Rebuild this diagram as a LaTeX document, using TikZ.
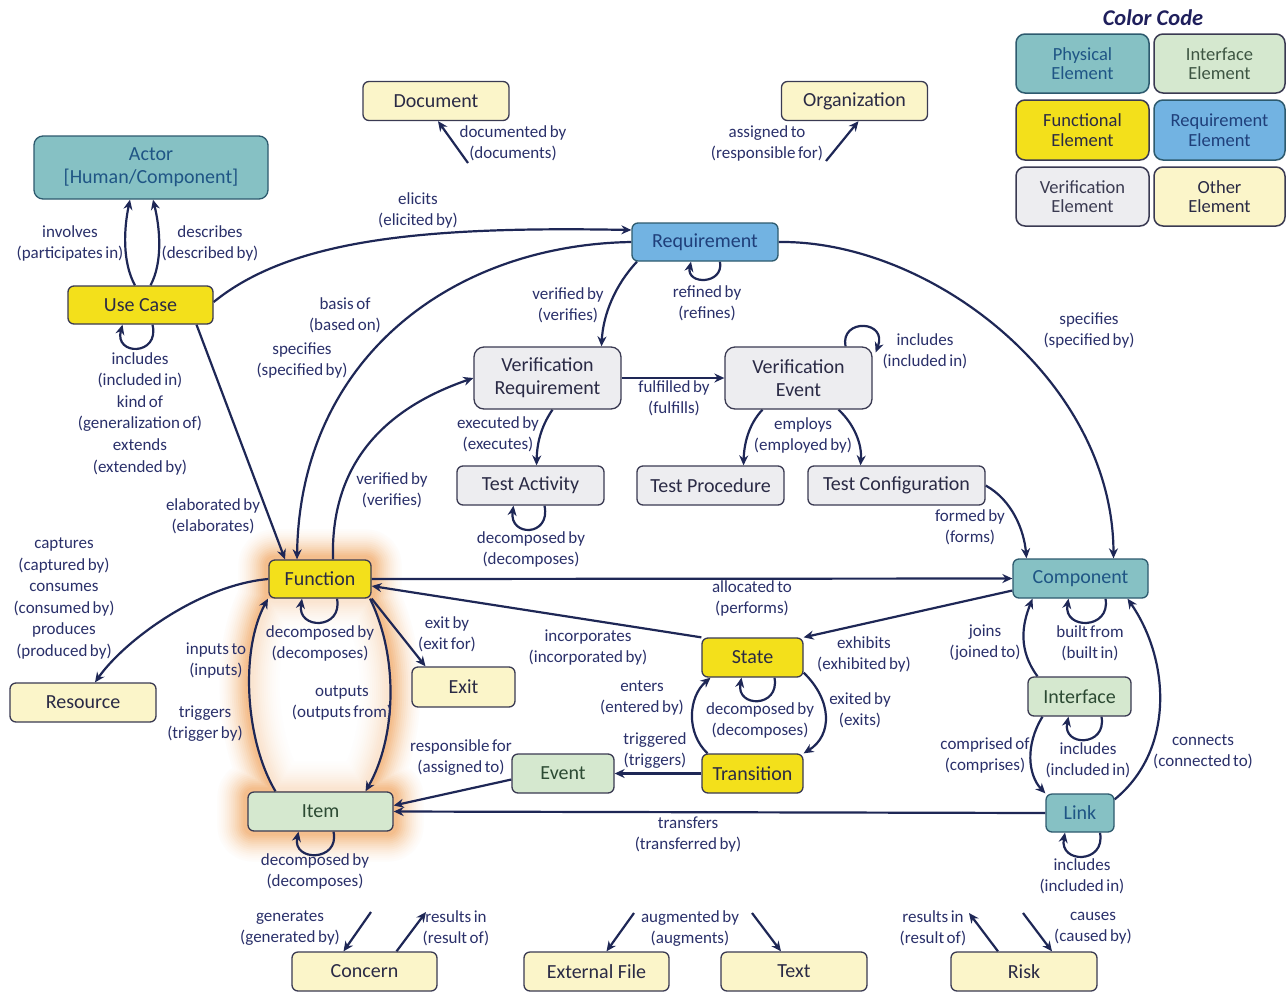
\documentclass[tikz,border=0pt]{standalone}
\usepackage{fontspec}
\setmainfont{Carlito}
\usetikzlibrary{arrows.meta}
\pgfdeclarelayer{bg}
\pgfdeclarelayer{lines}
\pgfsetlayers{bg,lines,main}

\definecolor{edgec}{HTML}{1E2756}
\definecolor{bordc}{HTML}{3A3A52}
\definecolor{physfill}{HTML}{86C1C4}
\definecolor{physline}{HTML}{2D5A6E}
\definecolor{phystext}{HTML}{1F5585}
\definecolor{intfill}{HTML}{D5E8CF}
\definecolor{inttext}{HTML}{2C4A33}
\definecolor{funcfill}{HTML}{F3E01B}
\definecolor{reqfill}{HTML}{72B3E2}
\definecolor{reqtext}{HTML}{1F3F7A}
\definecolor{verfill}{HTML}{EDEDF0}
\definecolor{othfill}{HTML}{FBF5C9}
\definecolor{nodetext}{HTML}{2A2A45}
\definecolor{labtext}{HTML}{2A306A}
\definecolor{titlec}{HTML}{1F1F5C}
\definecolor{glowc}{HTML}{EE9A4C}

\newcommand\dgNodeFont{\fontsize{20}{23}\selectfont}
\newcommand\dgLegFont{\fontsize{18.5}{19.5}\selectfont}
\newcommand\dgLabFont{\fontsize{17}{21}\selectfont\spaceskip=0.15em plus 0.05em minus 0.02em\relax}
\newcommand\dgLabSixFont{\fontsize{17}{21.6}\selectfont\spaceskip=0.15em plus 0.05em minus 0.02em\relax}

\begin{document}
\begin{tikzpicture}[x=1pt,y=-1pt,
  box/.style={draw=bordc, line width=1.3pt, rounded corners=6pt, align=center,
              inner sep=0pt, font=\dgNodeFont, text=nodetext},
  sz/.style 2 args={minimum width=#1pt, minimum height=#2pt},
  physbox/.style={box, fill=physfill, draw=physline, text=phystext},
  intbox/.style={box, fill=intfill, text=inttext},
  funbox/.style={box, fill=funcfill},
  reqbox/.style={box, fill=reqfill, draw=physline, text=reqtext},
  verbox/.style={box, fill=verfill},
  othbox/.style={box, fill=othfill},
  leg/.style={rounded corners=9pt, font=\dgLegFont, line width=1.5pt},
  edge/.style={draw=edgec, line width=2.2pt, -{Stealth[length=10pt,width=9pt]}},
  lab/.style={font=\dgLabFont, text=labtext, align=center, inner sep=0pt},
  labsix/.style={lab, font=\dgLabSixFont}
]
\useasboundingbox (0,0) rectangle (1286,994);

% ---------- colour legend ----------
\node[font=\bfseries\itshape\fontsize{22.5}{24}\selectfont, text=titlec] (cc) at (1153,18) {Color Code};
\node[physbox, leg, sz={133}{59}, text=phystext] (lp) at (1082.5,63.5) {Physical\\Element};
\node[intbox, leg, sz={131}{59}, text=inttext!80!gray] (li) at (1219.5,63.5) {Interface\\Element};
\node[funbox, leg, sz={133}{60}] (lf) at (1082.5,130) {Functional\\Element};
\node[reqbox, leg, sz={131}{60}] (lr) at (1219.5,130) {Requirement\\Element};
\node[verbox, leg, sz={133}{59}, text=nodetext!80!gray] (lv) at (1082.5,196.5) {Verification\\Element};
\node[othbox, leg, sz={131}{59}] (lo) at (1219.5,196.5) {Other\\Element};

% ---------- elements ----------
\node[othbox, sz={146}{39}] (doc) at (436,101) {Document};
\node[othbox, sz={146}{39}] (org) at (854.5,101) {Organization};
\node[physbox, sz={234}{63}, rounded corners=9pt] (act) at (151,167.5) {Actor\\{}[Human/Component]};
\node[funbox, sz={145}{38}] (uc) at (140.5,305) {Use Case};
\node[reqbox, sz={146}{38}] (req) at (705,242) {Requirement};
\node[verbox, sz={147}{62}, rounded corners=10pt] (vr) at (547.5,378) {Verification\\Requirement};
\node[verbox, sz={147}{62}, rounded corners=10pt] (ve) at (798.5,378) {Verification\\Event};
\node[verbox, sz={147}{39}] (ta) at (530.5,485.5) {Test Activity};
\node[verbox, sz={147}{39}] (tp) at (710.5,485.5) {Test Procedure};
\node[verbox, sz={177}{39}] (tc) at (896.5,485.5) {Test Configuration};
\node[funbox, sz={102}{38}] (fn) at (320,579) {Function};
\node[physbox, sz={135}{39}] (comp) at (1080.5,578.5) {Component};
\node[othbox, sz={146}{39}] (res) at (83,702.5) {Resource};
\node[othbox, sz={103}{40}] (exit) at (463.5,687) {Exit};
\node[funbox, sz={101}{39}] (state) at (752.5,657.5) {State};
\node[intbox, sz={103}{39}] (intf) at (1079.5,696.5) {Interface};
\node[intbox, sz={102}{39}] (ev) at (563,773.5) {Event};
\node[funbox, sz={101}{39}] (tr) at (752.5,773.5) {Transition};
\node[intbox, sz={145}{39}] (item) at (320.5,811.5) {Item};
\node[physbox, sz={68}{38}] (link) at (1080,813) {Link};
\node[othbox, sz={145}{39}] (conc) at (364.5,971.5) {Concern};
\node[othbox, sz={145}{39}] (ext) at (596.5,971.5) {External File};
\node[othbox, sz={146}{39}] (txt) at (794,971.5) {Text};
\node[othbox, sz={146}{39}] (risk) at (1024,971.5) {Risk};

% ---------- free ends of the short relation arrows ----------
\coordinate (docA) at (468,163);
\coordinate (orgA) at (826,161);
\coordinate (concA) at (371,912);
\coordinate (concB) at (426,912);
\coordinate (extA) at (634,913);
\coordinate (txtA) at (752,913);
\coordinate (riskA) at (969,913);
\coordinate (riskB) at (1023,913);

% ---------- highlight glow around Function / Item ----------
\begin{pgfonlayer}{bg}
\fill[white] (0,0) rectangle (1286,994);
\foreach \w/\c in {60/3,56/5,52/8,48/11,44/15,40/19,36/24,32/29,28/34,24/40,20/46,16/52,12/58,8/64}{
  \draw[glowc!\c, line width=\w pt, line cap=round, line join=round, rounded corners=6pt]
    (fn.south west) rectangle (fn.north east)
    (item.south west) rectangle (item.north east);
  \draw[glowc!\c, line width=\w pt, line cap=round]
    ([xshift=-45pt]item.north) .. controls (245,740) and (240,650) .. ([xshift=-52pt]fn.south)
    ([xshift=50pt]fn.south) .. controls (400,660) and (395,740) .. ([xshift=45pt]item.north);
}
\fill[white, opacity=0.6] ([xshift=-52pt]fn.south) -- ([xshift=50pt]fn.south)
  .. controls (400,660) and (395,740) .. ([xshift=45pt]item.north)
  -- ([xshift=-45pt]item.north) .. controls (245,740) and (240,650) .. cycle;
\end{pgfonlayer}

% ---------- relations ----------
\begin{pgfonlayer}{lines}
\draw[edge] (docA) -- ([xshift=2pt]doc.south);
\draw[edge] (orgA) -- ([xshift=4pt]org.south);
\draw[edge] (concA) -- ([xshift=-21pt]conc.north);
\draw[edge] ([xshift=32pt]conc.north) -- (concB);
\draw[edge] (extA) -- ([xshift=10pt]ext.north);
\draw[edge] (txtA) -- ([xshift=-13pt]txt.north);
\draw[edge] ([xshift=-26pt]risk.north) -- (riskA);
\draw[edge] (riskB) -- ([xshift=28pt]risk.north);

\draw[edge] ([xshift=-5.5pt]uc.north) .. controls (122,262) and (124,228) .. ([xshift=-21pt]act.south);
\draw[edge] ([xshift=10pt]uc.north) .. controls (163,262) and (160,228) .. ([xshift=2pt]act.south);
\draw[edge] ([yshift=3pt]uc.east) .. controls (290,240) and (420,226) .. ([yshift=12pt]req.west);
\draw[edge] (req.west) .. controls (450,245) and (300,360) .. ([xshift=-23pt]fn.north);
\draw[edge] ([xshift=56pt]uc.south) -- ([xshift=-35pt]fn.north);
\draw[edge] ([xshift=12pt]uc.south) .. controls (160,356) and (114,356) .. ([xshift=-18pt]uc.south);
\draw[edge] ([xshift=-68pt]req.south) .. controls (615,285) and (603,315) .. ([xshift=54pt]vr.north);
\draw[edge] ([xshift=15pt]req.south) .. controls (724,285) and (686,285) .. ([xshift=-14pt]req.south);
\draw[edge] (req.east) .. controls (930,240) and (1113,380) .. ([xshift=33pt]comp.north);
\draw[edge] ([xshift=13pt]fn.north) .. controls (330,455) and (395,405) .. (vr.west);
\draw[edge] (vr.east) -- (ve.west);
\draw[edge] ([xshift=5pt]vr.south) .. controls (540,428) and (537,445) .. ([xshift=6pt]ta.north);
\draw[edge] ([xshift=14pt]ta.south) .. controls (551,537) and (509,537) .. ([xshift=-17pt]ta.south);
\draw[edge] ([xshift=47pt]ve.north) .. controls (840,318) and (888,320) .. ([xshift=3pt,yshift=-6pt]ve.north east);
\draw[edge] ([xshift=-36pt]ve.south) .. controls (748,425) and (744,445) .. ([xshift=33pt]tp.north);
\draw[edge] ([xshift=40pt]ve.south) .. controls (855,425) and (862,445) .. ([xshift=-36pt]tc.north);
\draw[edge] (tc.east) .. controls (1012,500) and (1024,530) .. ([xshift=-54pt]comp.north);
\draw[edge] (fn.east) -- (comp.west);
\draw[edge] ([yshift=-12pt]comp.west) -- (state.north east);
\draw[edge] (state.north west) -- ([yshift=-7pt]fn.east);
\draw[edge] (fn.south east) -- ([xshift=-38pt]exit.north);
\draw[edge] (fn.west) .. controls (200,585) and (125,640) .. ([xshift=12pt]res.north);
\draw[edge] ([xshift=17pt]fn.south) .. controls (343,630) and (297,630) .. ([xshift=-18pt]fn.south);
\draw[edge] ([xshift=-45pt]item.north) .. controls (245,740) and (240,650) .. ([xshift=-52pt]fn.south);
\draw[edge] ([xshift=50pt]fn.south) .. controls (400,660) and (395,740) .. ([xshift=45pt]item.north);
\draw[edge] ([xshift=13pt]item.south) .. controls (340,862) and (292,862) .. ([xshift=-22pt]item.south);
\draw[edge] ([yshift=-6pt]ev.west) -- ([yshift=6pt]item.east);
\draw[edge] (link.west) -- (item.east);
\draw[edge] (tr.west) -- (ev.east);
\draw[edge] ([xshift=-45pt]tr.north) .. controls (686,733) and (688,697) .. ([xshift=-42pt]state.south);
\draw[edge] ([yshift=5pt]state.south east) .. controls (832,700) and (833,735) .. (tr.north east);
\draw[edge] ([xshift=22pt]state.south) .. controls (780,708) and (736,708) .. ([xshift=-11pt]state.south);
\draw[edge] ([xshift=25pt]comp.south) .. controls (1111,630) and (1063,630) .. ([xshift=-12pt]comp.south);
\draw[edge] ([xshift=-42pt]intf.north) .. controls (1018,650) and (1022,625) .. ([xshift=-48pt]comp.south);
\draw[edge] ([xshift=22pt]intf.south) .. controls (1107,747) and (1062,747) .. ([xshift=-11pt]intf.south);
\draw[edge] ([xshift=-37pt]intf.south) .. controls (1025,745) and (1028,775) .. (link.north west);
\draw[edge] ([yshift=-6pt]link.north east) .. controls (1175,750) and (1170,660) .. ([xshift=47pt]comp.south);
\draw[edge] ([xshift=20pt]link.south) .. controls (1106,864) and (1059,864) .. ([xshift=-15pt]link.south);
\end{pgfonlayer}

% ---------- relation labels ----------
\node[lab] (lInv) at (70,243) {involves\\(participates in)};
\node[lab] (lDes) at (210,243) {describes\\(described by)};
\node[lab] (lEli) at (418,210) {elicits\\(elicited by)};
\node[lab] (lBas) at (345,315) {basis of\\(based on)};
\node[lab] (lSpL) at (302,360) {specifies\\(specified by)};
\node[lab] (lVerA) at (568,305) {verified by\\(verifies)};
\node[lab] (lRef) at (707,303) {refined by\\(refines)};
\node[lab] (lSpR) at (1089,330) {specifies\\(specified by)};
\node[lab] (lIncA) at (925,351) {includes\\(included in)};
\node[lab] (lFul) at (674,398) {fulfilled by\\(fulfills)};
\node[lab] (lExe) at (498,434) {executed by\\(executes)};
\node[lab] (lEmp) at (803,435) {employs\\(employed by)};
\node[labsix] (lUc) at (140,413.5) {includes\\(included in)\\kind of\\(generalization of)\\extends\\(extended by)};
\node[lab] (lVerB) at (392,490) {verified by\\(verifies)};
\node[lab] (lEla) at (213,516) {elaborated by\\(elaborates)};
\node[lab] (lDecTA) at (531,549) {decomposed by\\(decomposes)};
\node[lab] (lFor) at (970,527) {formed by\\(forms)};
\node[labsix] (lCap) at (64,598.5) {captures\\(captured by)\\consumes\\(consumed by)\\produces\\(produced by)};
\node[lab] (lAll) at (752,598) {allocated to\\(performs)};
\node[lab] (lDecF) at (320,643) {decomposed by\\(decomposes)};
\node[lab] (lExit) at (447,634) {exit by\\(exit for)};
\node[lab] (lInco) at (588,648) {incorporates\\(incorporated by)};
\node[lab] (lExh) at (864,654) {exhibits\\(exhibited by)};
\node[lab] (lJoi) at (985,643) {joins\\(joined to)};
\node[lab] (lBui) at (1090,643) {built from\\(built in)};
\node[lab] (lInp) at (216,661) {inputs to\\(inputs)};
\node[lab] (lEnt) at (642,698) {enters\\(entered by)};
\node[lab] (lOut) at (342,703) {outputs\\(outputs from)};
\node[lab] (lDecS) at (760,720) {decomposed by\\(decomposes)};
\node[lab] (lExd) at (860,710) {exited by\\(exits)};
\node[lab] (lTrg) at (205,724) {triggers\\(trigger by)};
\node[lab] (lRes) at (461,758) {responsible for\\(assigned to)};
\node[lab] (lTrd) at (655,751) {triggered\\(triggers)};
\node[lab] (lCom) at (985,755) {comprised of\\(comprises)};
\node[lab] (lIncB) at (1088,760) {includes\\(included in)};
\node[lab] (lCon) at (1203,752) {connects\\(connected to)};
\node[lab] (lTra) at (688,835) {transfers\\(transferred by)};
\node[lab] (lDecI) at (315,871) {decomposed by\\(decomposes)};
\node[lab] (lIncC) at (1082,876) {includes\\(included in)};
\node[lab] (lDoc) at (513,143.5) {documented by\\(documents)};
\node[lab] (lAsg) at (767,143.5) {assigned to\\(responsible for)};
\node[lab] (lGen) at (290,928.5) {generates\\(generated by)};
\node[lab] (lRinA) at (456,928.5) {results in\\(result of)};
\node[lab] (lAug) at (690,928.5) {augmented by\\(augments)};
\node[lab] (lRinB) at (933,928.5) {results in\\(result of)};
\node[lab] (lCau) at (1093,928.5) {causes\\(caused by)};
\end{tikzpicture}
\end{document}
